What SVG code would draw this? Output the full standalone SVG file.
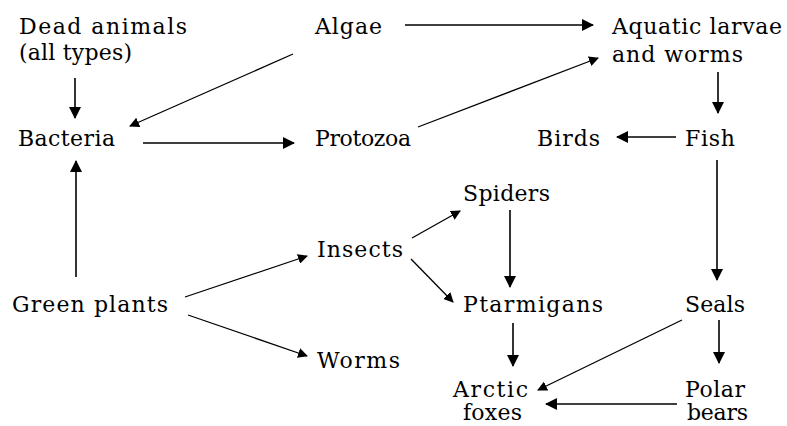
<svg xmlns="http://www.w3.org/2000/svg" width="787" height="426" viewBox="0 0 787 426">
<defs>
<style>
text{font-family:"DejaVu Serif","Liberation Serif",serif;font-size:22px;fill:#000}
.c line{stroke:#000;stroke-width:1.6;fill:none;marker-end:url(#ah)}
.c line.d{stroke-width:1.3;marker-end:url(#ahs)}
</style>
<marker id="ah" markerUnits="userSpaceOnUse" markerWidth="12" markerHeight="12" viewBox="0 0 12 12" refX="11" refY="6" orient="auto"><path d="M0,0 L12,6 L0,12 z" fill="#000"/></marker>
<marker id="ahs" markerUnits="userSpaceOnUse" markerWidth="10" markerHeight="10" viewBox="0 0 10 10" refX="9" refY="5" orient="auto"><path d="M0,0 L10,5 L0,10 z" fill="#000"/></marker>
</defs>
<rect width="787" height="426" fill="#fff"/>
<g id="dead-animals"><text x="19" y="34" textLength="168" lengthAdjust="spacing">Dead animals</text><text x="19" y="60" textLength="113" lengthAdjust="spacing">(all types)</text></g>
<g id="algae"><text x="315" y="34" textLength="67" lengthAdjust="spacing">Algae</text></g>
<g id="aquatic"><text x="612" y="34" textLength="170" lengthAdjust="spacing">Aquatic larvae</text><text x="612" y="62" textLength="131" lengthAdjust="spacing">and worms</text></g>
<g id="bacteria"><text x="18" y="146" textLength="97" lengthAdjust="spacing">Bacteria</text></g>
<g id="protozoa"><text x="315" y="146" textLength="96" lengthAdjust="spacing">Protozoa</text></g>
<g id="birds"><text x="537" y="146" textLength="63" lengthAdjust="spacing">Birds</text></g>
<g id="fish"><text x="685" y="146" textLength="50" lengthAdjust="spacing">Fish</text></g>
<g id="spiders"><text x="463" y="201" textLength="87" lengthAdjust="spacing">Spiders</text></g>
<g id="insects"><text x="317" y="257" textLength="86" lengthAdjust="spacing">Insects</text></g>
<g id="green-plants"><text x="12" y="312" textLength="156" lengthAdjust="spacing">Green plants</text></g>
<g id="ptarmigans"><text x="463" y="312" textLength="140" lengthAdjust="spacing">Ptarmigans</text></g>
<g id="seals"><text x="685" y="312" textLength="60" lengthAdjust="spacing">Seals</text></g>
<g id="worms"><text x="317" y="368" textLength="83" lengthAdjust="spacing">Worms</text></g>
<g id="arctic-foxes"><text x="453" y="397" textLength="75" lengthAdjust="spacing">Arctic</text><text x="463" y="420" textLength="59" lengthAdjust="spacing">foxes</text></g>
<g id="polar-bears"><text x="685" y="397" textLength="60" lengthAdjust="spacing">Polar</text><text x="687" y="420" textLength="61" lengthAdjust="spacing">bears</text></g>
<g id="connectors" class="c">
<line x1="75" y1="78" x2="75" y2="118"/>
<line class="d" x1="293" y1="54" x2="130" y2="126"/>
<line x1="143" y1="143" x2="294" y2="143"/>
<line x1="405" y1="25" x2="593" y2="25"/>
<line class="d" x1="418" y1="127" x2="598" y2="58"/>
<line x1="718" y1="72" x2="718" y2="113"/>
<line x1="676" y1="137" x2="617" y2="137"/>
<line x1="76" y1="277" x2="76" y2="161"/>
<line class="d" x1="185" y1="297" x2="307" y2="256"/>
<line class="d" x1="188" y1="315" x2="307" y2="356"/>
<line class="d" x1="412" y1="238" x2="460" y2="211"/>
<line class="d" x1="411" y1="259" x2="453" y2="302"/>
<line x1="510" y1="210" x2="510" y2="287"/>
<line x1="717" y1="160" x2="717" y2="280"/>
<line x1="513" y1="323" x2="513" y2="366"/>
<line class="d" x1="682" y1="320" x2="538" y2="390"/>
<line x1="719" y1="320" x2="719" y2="363"/>
<line x1="677" y1="404" x2="546" y2="404"/>
</g>
</svg>
